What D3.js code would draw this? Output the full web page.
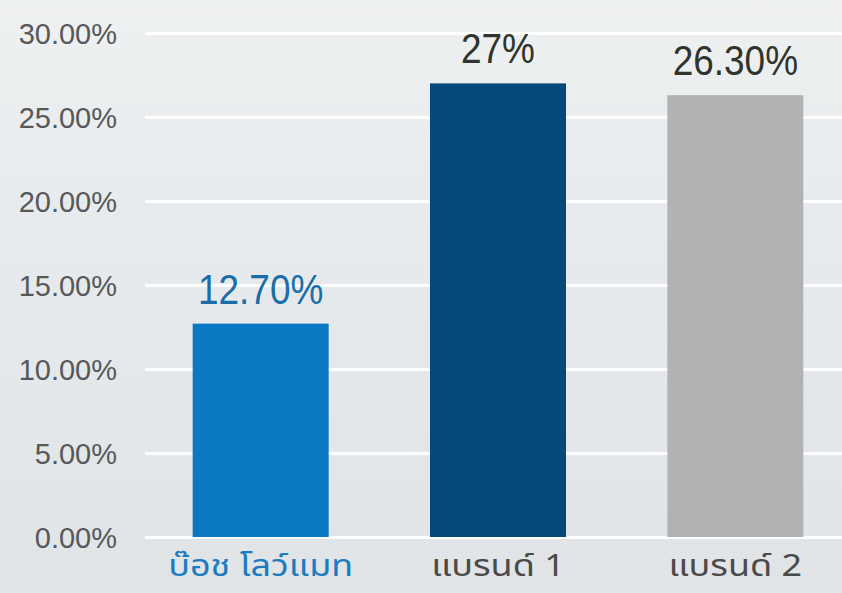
<!DOCTYPE html>
<html>
<head>
<meta charset="utf-8">
<script src="https://cdn.jsdelivr.net/npm/d3@7"></script>
<style>
  html, body { margin: 0; padding: 0; background: #e4e7ea; }
  svg { display: block; }
</style>
</head>
<body>
<svg id="chart" width="842" height="593"></svg>
<script>
const categories = ["บ๊อช โลว์แมท", "แบรนด์ 1", "แบรนด์ 2"];
const values = [12.7, 27, 26.3];
const valueLabels = ["12.70%", "27%", "26.30%"];
const tickValues = [0, 5, 10, 15, 20, 25, 30];
const tickLabels = ["0.00%", "5.00%", "10.00%", "15.00%", "20.00%", "25.00%", "30.00%"];
const barColors = ["#0a78c2", "#03497a", "#b2b2b5"];
const valueLabelColors = ["#1a6ea8", "#2f342c", "#2f342c"];
const catLabelColors = ["#1d7cc0", "#4a4a4a", "#4a4a4a"];

const W = 842, H = 593;
const svg = d3.select("#chart");

// background
const defs = svg.append("defs");
const grad = defs.append("linearGradient").attr("id", "bg").attr("x1", 0).attr("y1", 0).attr("x2", 0).attr("y2", 1);
grad.append("stop").attr("offset", "0%").attr("stop-color", "#eef0f1");
grad.append("stop").attr("offset", "35%").attr("stop-color", "#e8ebed");
grad.append("stop").attr("offset", "100%").attr("stop-color", "#e0e4e7");
svg.append("rect").attr("width", W).attr("height", H).attr("fill", "url(#bg)");

const y = d3.scaleLinear().domain([0, 30]).range([537, 33]);
const x = d3.scaleBand().domain(categories).range([142, 854]).paddingInner(0.427).paddingOuter(0.2135);

// gridlines
const grid = svg.append("g")
  .attr("transform", "translate(145,0)")
  .call(d3.axisLeft(y).tickValues(tickValues).tickSize(-(W - 145)).tickFormat(""));
grid.select(".domain").remove();
grid.selectAll(".tick line").attr("stroke", "#ffffff").attr("stroke-width", 3);

// y axis labels
const yAxis = svg.append("g")
  .attr("transform", "translate(117,0)")
  .call(d3.axisLeft(y).tickValues(tickValues).tickSize(0).tickPadding(0)
    .tickFormat((d, i) => tickLabels[i]));
yAxis.select(".domain").remove();
yAxis.selectAll(".tick text")
  .attr("fill", "#56585a")
  .attr("font-family", "Liberation Sans, Arial, sans-serif")
  .attr("font-size", 29)
  .attr("dy", "0.36em");

// bars
svg.append("g").selectAll("rect").data(values).join("rect")
  .attr("x", (d, i) => x(categories[i]))
  .attr("width", x.bandwidth())
  .attr("y", d => y(d))
  .attr("height", d => y(0) - y(d))
  .attr("fill", (d, i) => barColors[i]);

// value labels
svg.append("g").selectAll("text").data(values).join("text")
  .attr("x", (d, i) => x(categories[i]) + x.bandwidth() / 2)
  .attr("y", d => y(d) - 20)
  .attr("text-anchor", "middle")
  .attr("font-family", "Liberation Sans, Arial, sans-serif")
  .attr("font-size", 43)
  .attr("fill", (d, i) => valueLabelColors[i])
  .attr("transform", (d, i) => {
    const cx = x(categories[i]) + x.bandwidth() / 2;
    return `translate(${cx},0) scale(0.86,1) translate(${-cx},0)`;
  })
  .text((d, i) => valueLabels[i]);

// category labels
svg.append("g").selectAll("text").data(categories).join("text")
  .attr("x", d => x(d) + x.bandwidth() / 2)
  .attr("y", 576)
  .attr("text-anchor", "middle")
  .attr("font-family", "Noto Sans Thai, Noto Sans, Liberation Sans, sans-serif")
  .attr("font-size", 30)
  .attr("fill", (d, i) => catLabelColors[i])
  .attr("transform", d => {
    const cx = x(d) + x.bandwidth() / 2;
    return `translate(${cx},0) scale(1.2,1) translate(${-cx},0)`;
  })
  .text(d => d);
</script>
</body>
</html>
